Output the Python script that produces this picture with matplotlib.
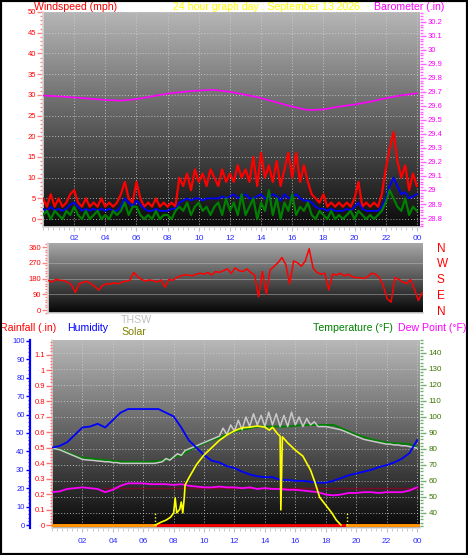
import matplotlib
matplotlib.use('Agg')
import matplotlib.pyplot as plt
import numpy as np
from matplotlib.colors import LinearSegmentedColormap
from matplotlib.patches import Rectangle
from matplotlib.ticker import MultipleLocator, FixedLocator, NullLocator

plt.rcParams['font.family'] = ['Liberation Sans', 'DejaVu Sans']

# ---------------- data ----------------
title_text = "24 hour graph day : September 13 2026"
hour_tick_values = [2, 4, 6, 8, 10, 12, 14, 16, 18, 20, 22, 24]
hour_tick_labels = ['02', '04', '06', '08', '10', '12', '14', '16', '18', '20', '22', '00']

# 15-minute samples (hours)
t_q = np.arange(97) / 4.0
# 30-minute samples
t_h = np.arange(49) / 2.0
# hourly samples
t_1 = np.arange(25)

wind_gust = [5, 3, 6, 3, 5, 3, 4, 6, 7, 4, 3, 5, 3, 4, 3, 5, 3, 4, 3, 4,
             6, 9, 5, 4, 9, 5, 3, 4, 3, 5, 3, 4, 3, 4, 3, 10, 8, 11, 7, 12,
             9, 11, 8, 12, 10, 8, 12, 9, 11, 9, 13, 10, 12, 9, 15, 8, 16, 10, 13, 9,
             14, 8, 12, 16, 10, 16, 9, 13, 9, 6, 5, 4, 6, 3, 4, 3, 4, 3, 4, 3,
             5, 9, 3, 4, 3, 4, 3, 6, 12, 17, 21, 14, 10, 13, 7, 11, 8]
wind_avg = [2.5, 2, 3, 2, 2.5, 2, 2.5, 3.5, 4, 3, 2, 2.5, 2, 2.5, 2, 2.5, 2, 2.5, 2, 2,
            3, 5, 4, 3, 4.5, 3.5, 2.5, 2, 2, 2.5, 2, 2, 2, 2.5, 2.5, 4, 4.5, 5, 4.5, 5,
            5, 4.5, 5, 5, 5, 5, 5.5, 5, 5.5, 6, 5, 5.5, 6, 5, 5, 5.5, 6, 5, 5, 6,
            5.5, 4.5, 6, 5, 5.5, 6, 5, 4.5, 4.5, 4, 3, 2.5, 2.5, 2, 2.5, 2, 2, 2, 2.5, 2,
            3, 4, 2.5, 2, 2, 2, 2, 3, 5, 8, 10, 8, 6, 6.5, 5, 5.5, 6]
wind_speed = [1, 2, 0, 2, 1, 0, 2, 1, 3, 1, 0, 2, 0, 1, 2, 0, 1, 0, 2, 1,
              2, 4, 1, 3, 3, 1, 0, 1, 0, 2, 0, 1, 1, 0, 2, 3, 2, 4, 1, 3,
              4, 2, 3, 1, 3, 4, 1, 5, 2, 4, 1, 6, 1, 3, 5, 0, 4, 2, 7, 1,
              5, 0, 4, 2, 6, 1, 3, 2, 4, 1, 0, 2, 1, 0, 2, 0, 1, 0, 1, 2,
              0, 2, 1, 0, 1, 0, 1, 2, 4, 7, 5, 3, 2, 5, 1, 3, 2]
barometer = [29.674, 29.668, 29.66, 29.652, 29.642, 29.638, 29.648, 29.668, 29.688,
             29.70, 29.71, 29.714, 29.70, 29.68, 29.656, 29.625, 29.595, 29.57,
             29.575, 29.595, 29.61, 29.63, 29.655, 29.675, 29.69]
baro_tick_values = [28.8, 28.9, 29.0, 29.1, 29.2, 29.3, 29.4, 29.5, 29.6, 29.7,
                    29.8, 29.9, 30.0, 30.1, 30.2]
baro_tick_labels = ['28.8', '28.9', '29', '29.1', '29.2', '29.3', '29.4', '29.5',
                    '29.6', '29.7', '29.8', '29.9', '30', '30.1', '30.2']

wind_dir = [170, 160, 175, 170, 168, 160, 145, 100, 150, 158, 165, 150, 135, 114, 140, 150,
            148, 155, 150, 160, 165, 170, 215, 190, 175, 165, 172, 168, 160, 172, 131, 175,
            170, 185, 195, 200, 200, 195, 205, 210, 205, 215, 200, 220, 215, 225, 235, 210,
            240, 225, 220, 235, 215, 200, 75, 220, 90, 230, 250, 270, 300, 260, 150, 280,
            270, 250, 280, 350, 240, 215, 205, 210, 114, 205, 200, 210, 195, 205, 190, 185,
            185, 180, 190, 210, 205, 185, 140, 65, 45, 185, 175, 160, 150, 175, 120, 55, 100]
dir_tick_values = [0, 90, 180, 270, 360]
compass_labels = ['N', 'E', 'S', 'W', 'N']

temperature = [80.6, 79.5, 78, 76, 74.5, 74, 73.5, 73, 72.5, 72, 72, 72, 72, 72, 72.5, 73,
               75, 76, 79, 81.5, 83.5, 85.5, 87, 89, 91, 92, 93, 94, 94, 94, 94, 94,
               94.5, 95, 95, 95, 95, 95, 93, 91, 89, 87.5, 86, 85, 84, 83.5, 83.5, 83, 81]
humidity = [42, 43, 45, 49, 53, 53.5, 55, 53, 57, 61, 63, 63, 63, 63, 63, 61,
            59, 53, 46, 42, 38, 35, 34, 32, 31, 29, 27.5, 26.5, 26, 26, 24.5, 24.5,
            24, 24, 23.5, 23, 23, 24, 25.5, 27, 28, 29, 30, 31.5, 32.5, 34, 36, 39, 46]
dew_point = [53, 53.5, 55, 55.5, 56, 55.5, 55, 53, 54.5, 57, 58.5, 58.5, 58.5, 58, 58, 58,
             57.5, 58, 57, 56.5, 56, 56, 56.5, 56, 56, 55.5, 56, 55, 55.5, 55, 55, 54.5,
             54.5, 54, 53.5, 53, 51.5, 51, 51.5, 52.5, 52.5, 53, 53, 52.5, 53, 53, 53, 54, 56]
thsw = [80.6, 80, 79.5, 78.5, 77.5, 76.5, 75.5, 74.5, 73.5, 73.2, 73, 72.8, 72.5, 72.3, 72, 72,
        71.5, 71.5, 71, 71, 71, 71, 71, 71, 71, 71, 71, 71, 71.5, 72, 74, 73,
        75, 77, 76, 79, 80, 81, 82, 83, 84, 85, 86, 87, 88, 93, 89, 95,
        91, 98, 92, 100, 94, 102, 95, 101, 94, 103, 95, 102, 94, 101, 94, 103,
        95, 100, 94, 99, 95, 97, 94, 94, 94, 93.5, 93, 92.5, 92, 91, 90, 89,
        88, 87, 86, 85.5, 85, 84.5, 84, 83.5, 83, 83, 82.5, 82.5, 82, 82, 81.5, 81, 80.5]
rainfall = [0.0] * 25
solar_hours = [6.8, 7.2, 7.5, 7.8, 8.0, 8.1, 8.2, 8.4, 8.5, 8.6, 8.7, 8.75, 9.0, 9.5, 10.0,
               10.5, 11.0, 11.5, 12.0, 12.5, 13.0, 13.5, 14.0, 14.3, 14.5, 14.8, 15.0, 15.05,
               15.15, 15.5, 16.0, 16.5, 17.0, 17.3, 17.6, 18.0, 18.4, 18.7, 19.0]
solar = [0, 25, 40, 65, 100, 225, 100, 130, 190, 100, 230, 330, 390, 500, 580,
         640, 700, 745, 780, 805, 810, 820, 810, 785, 810, 760, 735, 125,
         730, 680, 620, 570, 455, 350, 230, 165, 100, 40, 0]
sunrise, sunset = 6.8, 19.4
marker_line_temp = 55.6
temp_tick_values = [40, 50, 60, 70, 80, 90, 100, 110, 120, 130, 140]
hum_tick_values = [0, 10, 20, 30, 40, 50, 60, 70, 80, 90, 100]
rain_tick_values = [0, 0.1, 0.2, 0.3, 0.4, 0.5, 0.6, 0.7, 0.8, 0.9, 1.0, 1.1]
rain_tick_labels = ['0', '0.1', '0.2', '0.3', '0.4', '0.5', '0.6', '0.7', '0.8', '0.9', '1', '1.1']

# ---------------- layout helpers ----------------
W, H = 468, 555
fig = plt.figure(figsize=(W / 100, H / 100), dpi=100, facecolor='white')


def rect(x0, y0, x1, y1):
    return [x0 / W, 1 - y1 / H, (x1 - x0) / W, (y1 - y0) / H]


def px(x, y):
    return x / W, 1 - y / H


def gradient_bg(ax, top, bottom):
    grad = np.linspace(1, 0, 256).reshape(-1, 1)
    cmap = LinearSegmentedColormap.from_list('g', [bottom, top])
    ax.imshow(grad, aspect='auto', cmap=cmap, extent=[0, 1, 0, 1],
              transform=ax.transAxes, zorder=0, interpolation='bilinear')


def frame(ax):
    for s in ['top', 'right']:
        ax.spines[s].set_visible(False)
    for s in ['left', 'bottom']:
        ax.spines[s].set_color('#d8d8d8')
        ax.spines[s].set_linewidth(1.2)


grid_kw = dict(color='#d0d0d0', linestyle=(0, (1, 2)), linewidth=0.7, alpha=0.8)

# ---------------- panel 1: wind + barometer ----------------
ax1 = fig.add_axes(rect(43, 12, 420, 227))
gradient_bg(ax1, '#b6b6b6', '#0a0a0a')
ax1.set_xlim(0, 24.2)
ax1.set_ylim(-1.9, 50)
frame(ax1)
ax1.set_axisbelow(True)
ax1.grid(True, which='major', **grid_kw)
ax1.plot(t_q, wind_gust, color='#ff0000', lw=1.6, zorder=3)
ax1.plot(t_q, wind_avg, color='#0000ff', lw=1.3, zorder=4)
ax1.plot(t_q, wind_speed, color='#008000', lw=1.6, zorder=5)

ax1b = ax1.twinx()
ax1b.set_ylim(28.736, 30.27)
for s in ax1b.spines.values():
    s.set_visible(False)
ax1b.plot(t_1, barometer, color='#ff00ff', lw=1.2)
ax1b.yaxis.tick_right()
ax1b.yaxis.set_major_locator(FixedLocator(baro_tick_values))
ax1b.set_yticklabels(baro_tick_labels)
ax1b.yaxis.set_minor_locator(MultipleLocator(0.02))
ax1b.tick_params(axis='y', which='major', length=4, width=1, color='#ff60ff',
                 labelcolor='#ff00ff', labelsize=5.5, pad=1.5)
ax1b.tick_params(axis='y', which='minor', length=2, width=1, color='#ff60ff')

ax1.yaxis.tick_left()
ax1.yaxis.set_major_locator(MultipleLocator(5))
ax1.yaxis.set_minor_locator(MultipleLocator(1))
ax1.tick_params(axis='y', which='major', length=4, width=1, color='#ff8080',
                labelcolor='#ff0000', labelsize=5.5, pad=1)
ax1.tick_params(axis='y', which='minor', length=2, width=1, color='#ff8080')
ax1.set_xticks(hour_tick_values)
ax1.set_xticklabels(hour_tick_labels)
ax1.xaxis.set_minor_locator(MultipleLocator(1 / 3))
ax1.tick_params(axis='x', which='major', length=3, color='#c0c0c0',
                labelcolor='#2a2aff', labelsize=6, pad=3)
ax1.tick_params(axis='x', which='minor', length=2, color='#c0c0c0')

# ---------------- panel 2: wind direction ----------------
ax2 = fig.add_axes(rect(48, 243, 423, 313))
gradient_bg(ax2, '#a8a8a8', '#050505')
ax2.set_xlim(0, 24.05)
ax2.set_ylim(-17, 383)
frame(ax2)
ax2.set_axisbelow(True)
for v in dir_tick_values[1:4]:
    ax2.axhline(v, color='#c8c8c8', lw=0.6, alpha=0.5, zorder=1)
ax2.plot(t_q, wind_dir, color='#ff0000', lw=1.1, zorder=3)

ax2b = ax2.twinx()
ax2b.set_ylim(-17, 383)
for s in ax2b.spines.values():
    s.set_visible(False)
ax2b.yaxis.tick_right()
ax2b.set_yticks(dir_tick_values)
ax2b.set_yticklabels(compass_labels)
ax2b.tick_params(axis='y', length=0, labelcolor='#ff0000', labelsize=8.5, pad=10)

ax2.yaxis.tick_left()
ax2.set_yticks(dir_tick_values)
ax2.yaxis.set_minor_locator(MultipleLocator(15))
ax2.xaxis.set_major_locator(NullLocator())
ax2.tick_params(axis='y', which='major', length=4, width=1, color='#ff8080',
                labelcolor='#ff0000', labelsize=5.5, pad=1)
ax2.tick_params(axis='y', which='minor', length=2, width=1, color='#ff8080')

# ---------------- panel 3: temperature / humidity / solar ----------------
ax3 = fig.add_axes(rect(52, 340, 420, 528))
gradient_bg(ax3, '#b8b8b8', '#080808')
ax3.set_xlim(0, 24.2)
ax3.set_ylim(30.6, 148.1)
frame(ax3)
ax3.set_axisbelow(True)
ax3.axhline(marker_line_temp, xmin=0.14, color='#7a0a2a', lw=1.0, zorder=2)
ax3.plot(t_h, dew_point, color='#ff00ff', lw=1.3, zorder=3)
ax3.plot(t_h, temperature, color='#008000', lw=1.4, zorder=3)
ax3.plot(t_q, thsw, color='#c8c8c8', lw=1.1, zorder=4)

ax_h = ax3.twinx()
ax_h.set_ylim(-1.6, 100.5)
for s in ax_h.spines.values():
    s.set_visible(False)
ax_h.yaxis.tick_left()
ax_h.spines['left'].set_visible(True)
ax_h.spines['left'].set_position(('outward', 15.8))
ax_h.spines['left'].set_color('#0000ff')
ax_h.spines['left'].set_linewidth(1.6)
ax_h.yaxis.set_major_locator(FixedLocator(hum_tick_values))
ax_h.yaxis.set_minor_locator(MultipleLocator(2))
ax_h.tick_params(axis='y', which='major', length=3, width=1, color='#0000ff',
                 labelcolor='#2020ff', labelsize=5.5, pad=1)
ax_h.tick_params(axis='y', which='minor', length=1.5, width=0.8, color='#4040ff')
ax_h.plot(t_h, humidity, color='#0000ff', lw=1.3, zorder=3)

ax_r = ax3.twinx()
ax_r.set_ylim(-0.019, 1.194)
for s in ax_r.spines.values():
    s.set_visible(False)
ax_r.yaxis.tick_left()
ax_r.yaxis.set_major_locator(FixedLocator(rain_tick_values))
ax_r.set_yticklabels(rain_tick_labels)
ax_r.yaxis.set_minor_locator(MultipleLocator(0.02))
ax_r.tick_params(axis='y', which='major', length=4, width=1, color='#ff7070',
                 labelcolor='#ff0000', labelsize=5.5, pad=1)
ax_r.tick_params(axis='y', which='minor', length=1.5, width=1, color='#ff7070')
ax_r.plot(t_1, rainfall, color='#ff0000', lw=2.0, zorder=3)

ax_s = ax3.twinx()
ax_s.set_ylim(-25, 1532)
ax_s.axis('off')
ax_s.plot([0, sunrise], [0, 0], color='#ff9a00', lw=2.0)
ax_s.plot([sunset, 24.2], [0, 0], color='#ff9a00', lw=2.0)
ax_s.vlines([sunrise, sunset], 0, 108, colors='#ffff40', linestyles=(0, (1, 1.5)), lw=1)
ax_s.plot(solar_hours, solar, color='#ffff00', lw=1.2)
ax_s.set_xlim(0, 24.2)

# temperature axis on the right (after twins, which reset tick side)
ax3.yaxis.tick_right()
ax3.yaxis.set_major_locator(FixedLocator(temp_tick_values))
ax3.yaxis.set_minor_locator(MultipleLocator(2))
ax3.grid(True, which='major', **grid_kw)
ax3.tick_params(axis='y', which='major', left=False, labelleft=False, length=4, width=1,
                color='#70b070', labelcolor='#3c7800', labelsize=5.8, pad=2)
ax3.tick_params(axis='y', which='minor', left=False, length=2, width=1, color='#70b070')
ax3.set_xticks(hour_tick_values)
ax3.set_xticklabels(hour_tick_labels)
ax3.xaxis.set_minor_locator(MultipleLocator(1 / 3))
ax3.tick_params(axis='x', which='major', length=3, color='#c0c0c0',
                labelcolor='#2a2aff', labelsize=6, pad=4)
ax3.tick_params(axis='x', which='minor', length=2, color='#c0c0c0')

# ---------------- header texts ----------------
fs = 7.6
fig.text(*px(34, 9.5), 'Windspeed (mph)', color='#ff0000', fontsize=fs, va='baseline')
fig.text(*px(173, 9.5), title_text, color='#ffff00', fontsize=fs, va='baseline')
fig.text(*px(374, 9.5), 'Barometer (.in)', color='#ff00ff', fontsize=fs, va='baseline')
fig.text(*px(0, 331), 'Rainfall (.in)', color='#ff0000', fontsize=fs, va='baseline')
fig.text(*px(67, 331), 'Humidity', color='#0000ff', fontsize=fs, va='baseline')
fig.text(*px(121, 323), 'THSW', color='#c0c0c0', fontsize=fs, va='baseline')
fig.text(*px(121, 335), 'Solar', color='#808000', fontsize=fs, va='baseline')
fig.text(*px(313, 331), 'Temperature (°F)', color='#008000', fontsize=fs, va='baseline')
fig.text(*px(398, 331), 'Dew Point (°F)', color='#ff00ff', fontsize=fs, va='baseline')

fig.patches.append(Rectangle((0, 0), 1, 1, transform=fig.transFigure, fill=False,
                             edgecolor='black', lw=3, zorder=10))

fig.savefig('out.png', dpi=100, facecolor='white')
